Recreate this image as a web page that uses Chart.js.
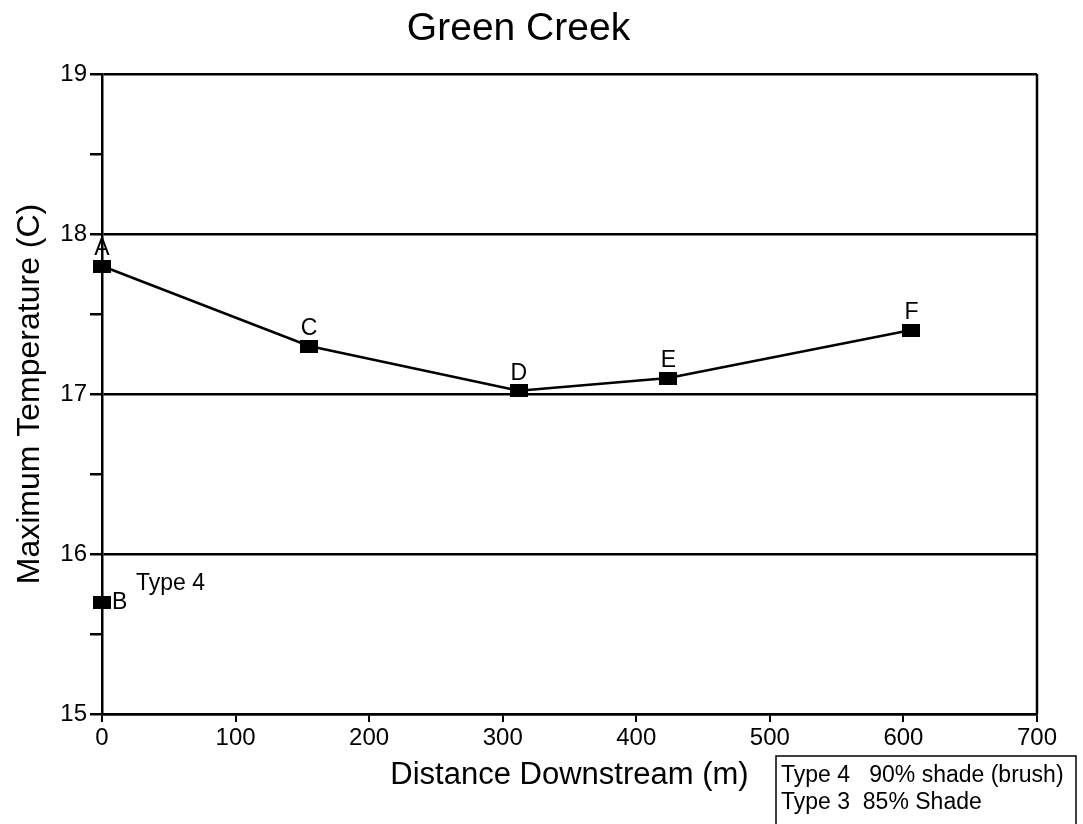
<!DOCTYPE html>
<html>
<head>
<meta charset="utf-8">
<title>Green Creek</title>
<script src="https://cdn.jsdelivr.net/npm/chart.js@4/dist/chart.umd.min.js"></script>
<style>
  body { margin: 0; background: #fff; }
</style>
</head>
<body>
<canvas id="creek" width="1083" height="824"></canvas>
<script>
// station data
var stationX = [0, 155, 312, 424, 606];
var stationTemp = [17.8, 17.3, 17.02, 17.1, 17.4];
var stationNames = ['A', 'C', 'D', 'E', 'F'];

var typeX = [0];
var typeTemp = [15.7];
var typeNames = ['B'];

var xTicks = [0, 100, 200, 300, 400, 500, 600, 700];
var yTicks = [15, 16, 17, 18, 19];

var legendLines = ['Type 4   90% shade (brush)', 'Type 3  85% Shade'];

var font = '"Liberation Sans", Arial, sans-serif';
Chart.defaults.color = '#000';
Chart.defaults.font.family = font;

// wide black square marker
var marker = document.createElement('canvas');
marker.width = 18;
marker.height = 13;
var mctx = marker.getContext('2d');
mctx.fillStyle = '#000';
mctx.fillRect(0, 0, 18, 13);

function toPoints(xs, ys) {
    var out = [];
    for (var i = 0; i < xs.length; i++) out.push({ x: xs[i], y: ys[i] });
    return out;
}

var pointLabels = {
    id: 'pointLabels',
    afterDatasetsDraw: function (chart) {
        var c = chart.ctx;
        c.save();
        c.fillStyle = '#000';
        chart.data.datasets.forEach(function (ds, i) {
            var meta = chart.getDatasetMeta(i);
            meta.data.forEach(function (pt, j) {
                c.font = '23px ' + font;
                if (ds.labelSide === 'right') {
                    c.textAlign = 'left';
                    c.textBaseline = 'middle';
                    c.fillText(ds.names[j], pt.x + 10, pt.y + 1);
                    // note next to B
                    c.font = '23px ' + font;
                    c.fillText('Type 4', pt.x + 34, pt.y - 18);
                } else {
                    c.textAlign = 'center';
                    c.textBaseline = 'bottom';
                    c.fillText(ds.names[j], pt.x, pt.y - 6);
                }
            });
        });
        c.restore();
    }
};

var frame = {
    id: 'frame',
    afterDraw: function (chart) {
        var c = chart.ctx;
        var a = chart.chartArea;
        c.save();
        c.strokeStyle = '#000';
        c.lineWidth = 2.5;
        c.beginPath();
        c.moveTo(a.right, a.top);
        c.lineTo(a.right, a.bottom);
        c.stroke();

        // legend box, bottom right
        c.lineWidth = 1.5;
        c.strokeRect(776, 756, 300, 80);
        c.font = '23px ' + font;
        c.textAlign = 'left';
        c.textBaseline = 'alphabetic';
        c.fillStyle = '#000';
        c.fillText(legendLines[0], 781, 782);
        c.fillText(legendLines[1], 781, 809);
        c.restore();
    }
};

var chart = new Chart(document.getElementById('creek').getContext('2d'), {
    type: 'scatter',
    data: {
        datasets: [{
            label: 'Stations',
            data: toPoints(stationX, stationTemp),
            names: stationNames,
            labelSide: 'top',
            showLine: true,
            borderColor: '#000',
            borderWidth: 2.5,
            pointStyle: marker,
            pointRadius: 9
        }, {
            label: 'Type 4',
            data: toPoints(typeX, typeTemp),
            names: typeNames,
            labelSide: 'right',
            showLine: false,
            pointStyle: marker,
            pointRadius: 9
        }]
    },
    options: {
        responsive: false,
        animation: false,
        clip: false,
        layout: { padding: { top: 0, right: 46, bottom: 0, left: 0 } },
        plugins: {
            legend: { display: false },
            tooltip: { enabled: false },
            title: {
                display: true,
                text: 'Green Creek',
                font: { size: 39, weight: 'normal' },
                padding: { top: 6, bottom: 21.2 }
            }
        },
        scales: {
            x: {
                type: 'linear',
                min: 0,
                max: 700,
                afterFit: function (s) { s.height = 110; },
                afterBuildTicks: function (s) {
                    s.ticks = xTicks.map(function (v) { return { value: v }; });
                },
                ticks: { font: { size: 24 }, padding: 2, maxRotation: 0 },
                grid: { drawOnChartArea: false, tickColor: '#000', tickLength: 8, lineWidth: 2 },
                border: { color: '#000', width: 2.5 },
                title: {
                    display: true,
                    text: 'Distance Downstream (m)',
                    font: { size: 31 },
                    padding: { top: 0, bottom: 30 }
                }
            },
            y: {
                min: 15,
                max: 19,
                afterFit: function (s) { s.width = 102; },
                ticks: {
                    stepSize: 0.5,
                    font: { size: 24 },
                    padding: 3,
                    callback: function (v) { return yTicks.indexOf(v) >= 0 ? String(v) : ''; }
                },
                grid: {
                    color: function (ctx) {
                        return yTicks.indexOf(ctx.tick.value) >= 0 ? '#000' : 'rgba(0,0,0,0)';
                    },
                    tickColor: '#000',
                    tickLength: 12,
                    lineWidth: 2.5
                },
                border: { color: '#000', width: 2.5 },
                title: {
                    display: true,
                    text: 'Maximum Temperature (C)',
                    font: { size: 32 },
                    padding: { top: 11, bottom: 0 }
                }
            }
        }
    },
    plugins: [pointLabels, frame]
});
</script>
</body>
</html>
